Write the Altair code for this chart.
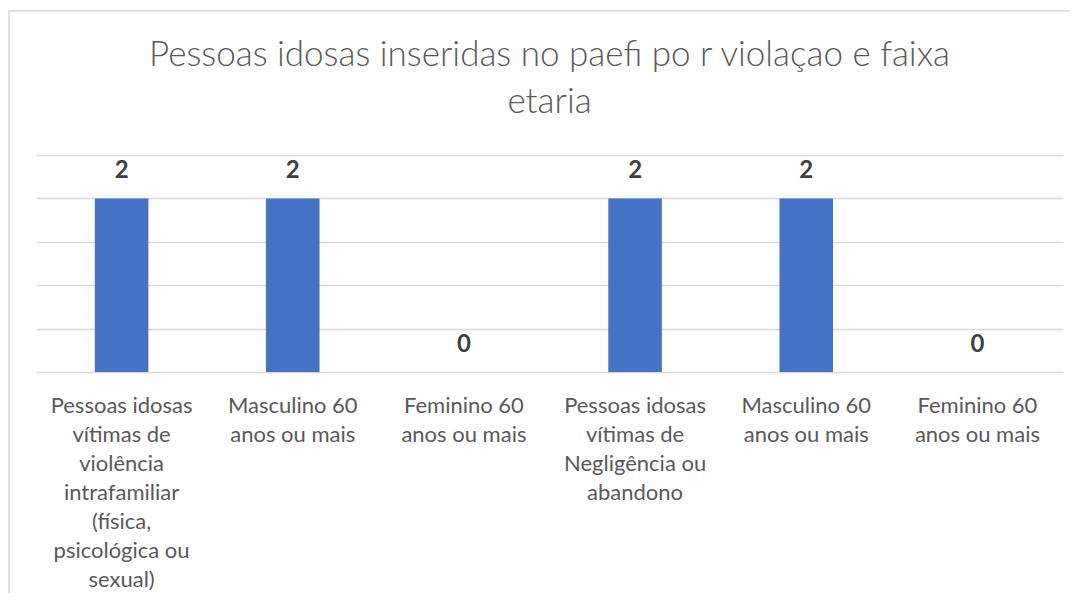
import json
import altair as alt
import pandas as pd

# ---- data ----
categories = [
    "Pessoas idosas vítimas de violência intrafamiliar (física, psicológica ou sexual)",
    "Masculino 60 anos ou mais",
    "Feminino 60 anos ou mais",
    "Pessoas idosas vítimas de Negligência ou abandono",
    "Masculino 60 anos ou mais",
    "Feminino 60 anos ou mais",
]
values = [2, 2, 0, 2, 2, 0]
label_lines = [
    "Pessoas idosas|vítimas de|violência|intrafamiliar|(física,|psicológica ou|sexual)",
    "Masculino 60|anos ou mais",
    "Feminino 60|anos ou mais",
    "Pessoas idosas|vítimas de|Negligência ou|abandono",
    "Masculino 60|anos ou mais",
    "Feminino 60|anos ou mais",
]
title_lines = ["Pessoas idosas inseridas no paefi po r violaçao e faixa", "etaria"]
grid_values = [0, 0.5, 1, 1.5, 2, 2.5]

df = pd.DataFrame({"idx": list(range(len(categories))), "categoria": categories, "valor": values})

FONT = "Lato"
PLOT_W = 1027
PLOT_H = 217
label_expr = "split(" + json.dumps(label_lines, ensure_ascii=False) + "[datum.value], '|')"

x_enc = alt.X(
    "idx:O",
    scale=alt.Scale(paddingInner=0.687, paddingOuter=0.3435),
    axis=alt.Axis(
        title=None,
        labelExpr=label_expr,
        labelAngle=0,
        labelFont=FONT,
        labelFontSize=22,
        labelColor="#595959",
        labelLineHeight=29,
        labelPadding=23,
        labelLimit=400,
        labelOverlap=False,
        labelBound=False,
        ticks=False,
        domain=False,
        grid=False,
    ),
)
y_enc = alt.Y(
    "valor:Q",
    scale=alt.Scale(domain=[0, 2.5], nice=False),
    axis=alt.Axis(
        title=None,
        labels=False,
        ticks=False,
        domain=False,
        values=grid_values,
        grid=True,
        gridColor="#d9d9d9",
        gridWidth=1.4,
    ),
)

base = alt.Chart(df)

bars = base.mark_bar(color="#4472C4").encode(x=x_enc, y=y_enc)

labels = base.mark_text(
    font=FONT, fontSize=24, fontWeight="bold", color="#404040", baseline="middle", dy=-27
).encode(x=alt.X("idx:O"), y=alt.Y("valor:Q"), text=alt.Text("valor:Q"))

one = pd.DataFrame({"a": [0]})

frame = alt.Chart(one).mark_rect(
    fill=None, stroke="#d9d9d9", strokeWidth=1.5, clip=False
).encode(
    x=alt.value(-27), x2=alt.value(1100), y=alt.value(-144), y2=alt.value(700)
)

title = alt.Chart(one).mark_text(
    text=title_lines,
    font=FONT,
    fontSize=35,
    fontWeight=300,
    color="#595959",
    align="center",
    baseline="alphabetic",
    lineHeight=47,
).encode(x=alt.value(PLOT_W / 2), y=alt.value(-89))

chart = (
    alt.layer(frame, bars, labels, title)
    .properties(
        width=PLOT_W,
        height=PLOT_H,
        autosize=alt.AutoSizeParams(type="none"),
        padding={"left": 28, "top": 147, "right": 6, "bottom": 221},
        background="white",
    )
    .configure_view(strokeWidth=0, stroke="transparent")
)

chart.save("out.html", embed_options={"renderer": "svg", "actions": False})
